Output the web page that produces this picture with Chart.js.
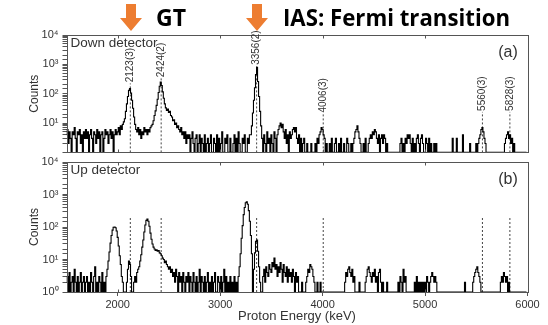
<!DOCTYPE html>
<html>
<head>
<meta charset="utf-8">
<script src="https://cdn.jsdelivr.net/npm/chart.js@4.4.0/dist/chart.umd.min.js"></script>
<style>
  html, body { margin: 0; padding: 0; background: #fff; }
  #wrap { position: relative; width: 548px; height: 325px; overflow: hidden; }
  #down, #up, #head { position: absolute; left: 0; }
  #down { top: 0; }
  #up { top: 150px; }
  #head { top: 0; }
</style>
</head>
<body>
<div id="wrap">
  <canvas id="down" width="548" height="163"></canvas>
  <canvas id="up" width="548" height="175"></canvas>
  <svg id="head" width="548" height="34">
    <path d="M126 4 H136 V18 H142 L131 31 L120 18 H126 Z" fill="#ED7D31"/>
    <path d="M252 4 H262 V18 H268 L257 31 L246 18 H252 Z" fill="#ED7D31"/>
    <text x="156" y="26" textLength="30" lengthAdjust="spacingAndGlyphs"
          font-family="Open Sans" font-weight="700" font-size="24">GT</text>
    <text x="283" y="26" textLength="227" lengthAdjust="spacingAndGlyphs"
          font-family="Open Sans" font-weight="700" font-size="24">IAS: Fermi transition</text>
  </svg>
</div>
<script>
// spectra: counts per 10 keV bin starting at 1500 keV
const binStart = 1500;
const binWidth = 10;

const downCounts = [
    4,6,2,5,3,0,5,4,7,3,1,5,4,6,2,4,0,5,3,6,
    3,5,1,4,6,3,0,5,4,2,6,3,5,1,4,5,0,3,6,4,
    5,2,4,6,3,5,1,4,6,4,5,7,4,8,6,9,11,14,25,45,
    80,130,150,105,60,32,16,9,6,5,7,4,6,3,5,4,7,5,6,4,
    6,5,7,8,9,12,18,26,40,65,110,180,250,190,115,70,45,33,27,30,
    23,25,18,16,12,13,9,10,7,8,6,5,7,4,5,3,5,2,4,3,
    4,1,3,5,2,0,3,4,1,2,4,0,3,2,1,4,0,2,3,1,
    2,4,0,1,3,2,0,4,1,3,0,2,5,1,0,3,2,4,1,0,
    3,1,0,2,4,1,3,0,5,2,1,0,3,2,4,0,1,3,2,4,
    4,8,22,60,160,450,800,260,80,25,8,3,1,4,2,0,5,2,3,1,
    4,2,0,5,3,1,4,6,8,10,7,9,5,3,6,2,4,1,5,3,
    4,6,7,5,7,3,2,4,1,3,0,2,3,1,0,2,0,1,0,2,
    0,1,0,2,0,3,2,4,5,7,6,4,3,1,2,0,1,2,0,3,
    1,0,2,3,0,1,2,0,3,1,0,2,1,0,3,2,0,1,2,0,
    2,3,5,6,8,5,3,2,0,1,2,0,3,1,0,2,3,4,3,5,
    4,6,5,3,2,4,1,3,4,2,4,3,1,2,0,1,0,0,1,0,
    0,0,1,0,0,1,2,3,1,2,0,3,2,4,3,4,2,1,3,0,
    2,1,3,4,2,0,3,4,2,1,0,3,2,1,3,0,2,1,0,2,
    1,2,0,0,0,0,0,0,0,0,0,0,0,0,0,0,0,3,0,0,
    0,3,0,0,0,0,0,4,0,0,0,0,0,0,2,0,0,0,0,1,
    2,0,2,3,4,6,7,5,3,2,1,0,0,0,0,0,0,0,0,0,
    0,0,0,0,0,0,0,0,2,3,4,5,3,4,2,3,1,2,1,0,
    0,0,0,0,0,0,0,0,0,0
];

const upCounts = [
    2,3,1,4,0,2,3,1,5,2,0,3,1,2,4,0,2,3,1,2,
    3,0,2,1,4,2,0,3,6,1,2,0,3,2,1,4,0,2,1,3,
    5,9,17,32,55,80,98,100,95,75,48,26,13,7,3,2,0,1,0,2,
    5,9,7,3,1,0,2,3,2,4,5,6,9,14,24,40,70,115,160,175,
    150,105,65,42,30,24,21,19,20,18,19,16,15,13,11,10,8,9,7,6,
    5,6,4,5,3,4,2,5,3,1,4,2,3,0,4,2,1,3,2,4,
    1,3,2,0,4,2,1,3,0,2,5,1,3,2,0,3,1,2,4,0,
    2,1,3,0,2,4,1,0,3,2,1,3,0,2,5,1,3,0,2,1,
    3,0,2,1,3,0,2,1,3,6,15,45,110,240,400,560,600,500,320,150,
    55,15,1,5,16,36,40,18,6,2,1,0,3,5,2,6,4,3,7,5,
    4,8,6,11,5,7,3,6,4,8,5,2,7,4,3,6,2,5,3,4,
    2,5,3,1,4,2,3,0,1,0,2,0,1,0,2,3,5,4,7,6,
    5,3,2,0,1,2,0,1,2,0,1,0,0,1,0,0,0,1,0,0,
    0,0,1,0,0,0,1,0,0,0,1,0,2,4,3,5,6,4,3,5,
    2,3,1,0,1,0,2,0,1,0,1,0,2,3,5,6,4,3,2,4,
    3,5,2,3,1,4,5,2,1,2,1,0,1,2,0,1,0,0,0,0,
    0,0,0,1,2,1,3,2,1,5,2,3,1,0,0,0,0,0,0,1,
    2,1,3,1,2,1,2,0,2,1,2,1,3,2,1,2,3,4,3,2,
    3,2,1,0,0,0,0,0,0,0,0,0,0,1,0,1,0,1,0,1,
    0,1,0,1,0,1,0,1,0,2,0,1,0,0,1,0,0,2,3,4,
    5,6,4,3,2,1,0,0,0,0,0,0,1,0,0,0,0,0,0,0,
    0,0,0,0,2,3,2,4,3,2,3,1,2,1,0,1,0,0,0,0,
    0,0,0,0,0,0,0,0,0,0
];

// fitted peak energies (keV) with their labels
const peakEnergies = [2123, 2424, 3356, 4006, 5560, 5828];
const peakLabels = ['2123(3)', '2424(2)', '3356(2)', '4006(3)', '5560(3)', '5828(3)'];
// height (counts) where the marker line stops
const downMarkTop = [225, 337, 890, 21, 24, 24];
const upMarkTop = 210;

const xMin = 1500, xMax = 6000;
const yMin = 1, yMax = 10000;
const xTickLabels = [2000, 3000, 4000, 5000, 6000];

const supers = ['\u2070', '\u00b9', '\u00b2', '\u00b3', '\u2074'];
const textColor = '#333';
const fontFamily = "'Liberation Sans', Arial, sans-serif";

Chart.defaults.font.family = fontFamily;
Chart.defaults.color = textColor;

function spectrumPoints(counts) {
    // empty bins sit on the axis floor of the log scale
    return counts.map((c, i) => ({x: binStart + i * binWidth, y: Math.max(c, yMin)}));
}

function markerPoints(tops) {
    let pts = [];
    peakEnergies.forEach((e, i) => {
        let top = Array.isArray(tops) ? tops[i] : tops;
        pts.push({x: e, y: yMin}, {x: e, y: top}, {x: e, y: null});
    });
    return pts;
}

// frame, inner ticks and panel captions
function panelPlugin(caption, tag, showLabels, tops) {
    return {
        id: 'panel',
        afterDatasetsDraw(chart) {
            const ctx = chart.ctx;
            const a = chart.chartArea;
            const xs = chart.scales.x, ys = chart.scales.y;
            ctx.save();
            ctx.strokeStyle = '#555';
            ctx.lineWidth = 1;
            let l = Math.round(a.left) + 0.5, t = Math.round(a.top) + 0.5;
            let r = Math.round(a.right) + 0.5, b = Math.round(a.bottom) + 0.5;
            ctx.strokeRect(l, t, r - l, b - t);
            ctx.beginPath();
            xTickLabels.forEach(v => {
                let px = Math.round(xs.getPixelForValue(v)) + 0.5;
                ctx.moveTo(px, t); ctx.lineTo(px, t + 3);
                ctx.moveTo(px, b); ctx.lineTo(px, b - 3);
            });
            ctx.stroke();

            ctx.fillStyle = textColor;
            ctx.font = '13.5px ' + fontFamily;
            ctx.textBaseline = 'middle';
            ctx.textAlign = 'left';
            ctx.fillText(caption, a.left + 4, a.top + 8);
            ctx.font = '16px ' + fontFamily;
            ctx.textAlign = 'center';
            ctx.fillText(tag, 508, a.top + 18);

            if (showLabels) {
                ctx.font = '10px ' + fontFamily;
                ctx.textAlign = 'left';
                peakEnergies.forEach((e, i) => {
                    let px = xs.getPixelForValue(e);
                    let py = ys.getPixelForValue(tops[i]) - 1;
                    ctx.save();
                    ctx.translate(px, py);
                    ctx.rotate(-Math.PI / 2);
                    ctx.fillText(peakLabels[i], 0, 0);
                    ctx.restore();
                });
            }
            ctx.restore();
        }
    };
}

function makePanel(canvasId, counts, tops, opts) {
    return new Chart(document.getElementById(canvasId), {
        type: 'line',
        data: {
            datasets: [{
                data: spectrumPoints(counts),
                borderColor: '#000',
                borderWidth: 1.1,
                pointRadius: 0,
                stepped: 'middle'
            }, {
                data: markerPoints(tops),
                borderColor: '#444',
                borderWidth: 1,
                borderDash: [2, 2],
                pointRadius: 0,
                spanGaps: false
            }]
        },
        options: {
            responsive: false,
            animation: false,
            devicePixelRatio: 1,
            layout: {padding: {top: opts.top, right: 20.5, bottom: 0, left: 0}},
            plugins: {legend: {display: false}, tooltip: {enabled: false}},
            scales: {
                x: {
                    type: 'linear',
                    min: xMin,
                    max: xMax,
                    afterFit: s => { s.height = opts.xHeight; },
                    afterBuildTicks: s => { s.ticks = xTickLabels.map(v => ({value: v})); },
                    grid: {drawOnChartArea: false, drawTicks: opts.xLabels, tickLength: 4, color: '#555'},
                    border: {display: false},
                    ticks: {
                        display: opts.xLabels,
                        padding: 2,
                        font: {size: 11},
                        callback: v => String(v)
                    },
                    title: {
                        display: opts.xLabels,
                        text: 'Proton Energy (keV)',
                        font: {size: 13},
                        padding: {top: 0, bottom: 1}
                    }
                },
                y: {
                    type: 'logarithmic',
                    min: yMin,
                    max: yMax,
                    afterFit: s => { s.width = 66.5; },
                    grid: {drawOnChartArea: false, tickLength: 4, color: '#555'},
                    border: {display: false},
                    ticks: {
                        padding: 4,
                        font: {size: 11},
                        autoSkip: false,
                        callback: v => {
                            let p = Math.log10(v);
                            if (Math.abs(p - Math.round(p)) > 1e-9) return '';
                            if (!opts.floorLabel && p === 0) return '';
                            return '10' + supers[Math.round(p)];
                        }
                    },
                    title: {
                        display: true,
                        text: 'Counts',
                        font: {size: 12},
                        padding: {top: 27, bottom: 0}
                    }
                }
            }
        },
        plugins: [panelPlugin(opts.caption, opts.tag, opts.peakText, tops)]
    });
}

const downChart = makePanel('down', downCounts, downMarkTop, {
    top: 35, xHeight: 1, xLabels: false, floorLabel: false,
    caption: 'Down detector', tag: '(a)', peakText: true
});

const upChart = makePanel('up', upCounts, upMarkTop, {
    top: 12, xHeight: 33, xLabels: true, floorLabel: true,
    caption: 'Up detector', tag: '(b)', peakText: false
});
</script>
</body>
</html>
